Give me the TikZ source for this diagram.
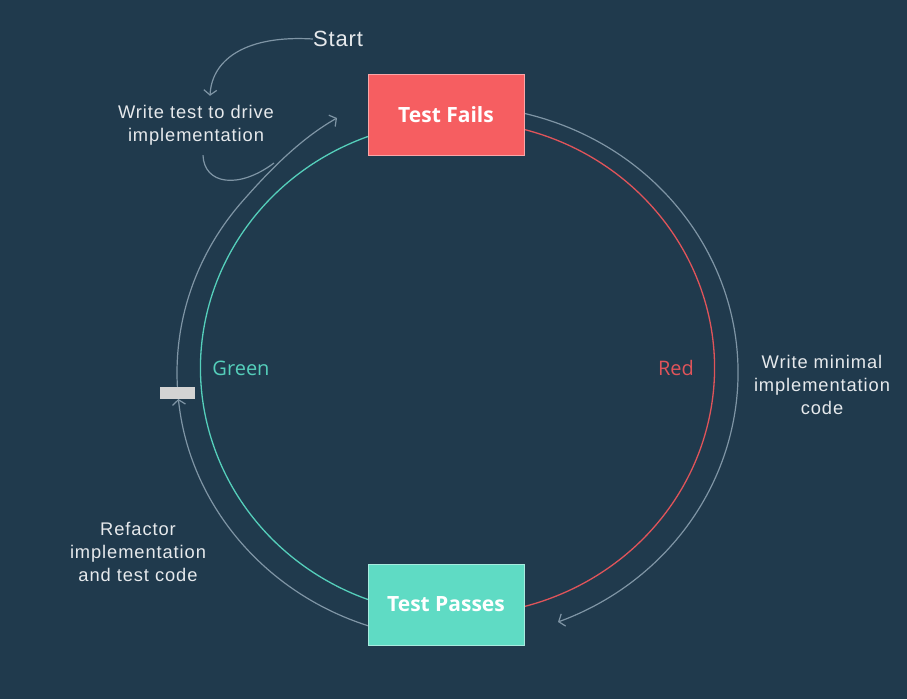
\documentclass[tikz,border=0pt]{standalone}
\usepackage{fontspec}
\setmainfont{Liberation Sans}
\newfontfamily\boxfont{Open Sans}
\usetikzlibrary{arrows.meta}

\definecolor{bgnavy}{HTML}{203A4D}
\definecolor{failred}{HTML}{F65E61}
\definecolor{passteal}{HTML}{5FDBC4}
\definecolor{redline}{HTML}{E0545A}
\definecolor{tealline}{HTML}{55CFBB}
\definecolor{flowgray}{HTML}{7F95A5}
\definecolor{notewhite}{HTML}{E6E9EC}
\definecolor{markgray}{HTML}{D3D3D3}

\tikzset{
  stepbox/.style={fill=#1, draw=#1!55!white, line width=0.8pt, minimum width=156pt,
    minimum height=81pt, inner sep=0pt, text=white,
    font=\boxfont\bfseries\fontsize{21}{25}\selectfont},
  note/.style={text=notewhite, align=center, inner sep=0pt,
    font=\fontsize{18.3}{23}\selectfont\addfontfeature{LetterSpace=5}},
  phase/.style={inner sep=0pt, font=\boxfont\fontsize{20}{24}\selectfont},
  flow/.style={draw=flowgray, line width=1.2pt},
  tip/.style={-{Straight Barb[length=5pt,width=13pt]}},
}

\begin{document}
\begin{tikzpicture}[x=1pt, y=-1pt]
    % Background
    \fill[bgnavy] (0,0) rectangle (907,699);
    \useasboundingbox (0,0) rectangle (907,699);

    % Centres of the two rings
    \coordinate (inner) at (457.5,368);
    \coordinate (outer) at (457.5,372.7);

    % Inner ring: green half and red half
    \draw[tealline, line width=1.3pt] ([shift={(110.4:257pt and 247pt)}]inner)
        arc[start angle=110.4, end angle=249.6, x radius=257pt, y radius=247pt];
    \draw[redline, line width=1.3pt] ([shift={(75:257pt and 247pt)}]inner)
        arc[start angle=75, end angle=-75, x radius=257pt, y radius=247pt];

    % Outer ring, right side
    \draw[flow, tip] ([shift={(76.3:280.5pt and 267pt)}]outer)
        arc[start angle=76.3, end angle=-69, x radius=280.5pt, y radius=267pt];

    % Outer ring, left side
    \coordinate (tipfails) at (337,118);
    \coordinate (merge) at (274,163);
    \draw[flow, tip] ([shift={(251.4:280.5pt and 267pt)}]outer)
        arc[start angle=251.4, end angle=185.65, x radius=280.5pt, y radius=267pt];
    \draw[flow, tip] ([shift={(185.65:280.5pt and 267pt)}]outer)
        arc[start angle=185.65, end angle=140, x radius=280.5pt, y radius=267pt]
        .. controls (269,171) and (300,139) .. (tipfails);

    % Boxes
    \node[stepbox=failred] (fails) at (446,115) {Test Fails};
    \node[stepbox=passteal] (passes) at (446,604.5) {Test Passes};

    % Marker on the left ring
    \node[fill=markgray, minimum width=35pt, minimum height=12pt, inner sep=0pt] (gap) at (177.5,393) {};

    % Labels
    \node[note, font=\fontsize{22}{26}\selectfont\addfontfeature{LetterSpace=4}] (start) at (338,39) {Start};
    \node[note] (writetest) at (196,125) {Write test to drive\\implementation};
    \node[note] (writemin) at (822,385) {Write minimal\\implementation\\code};
    \node[note] (refactor) at (138,552) {Refactor\\implementation\\and test code};
    \node[phase, text=tealline] (lblgreen) at (241,368) {Green};
    \node[phase, text=redline] (lblred) at (676,368) {Red};

    % Start arrow and swoosh
    \draw[flow, tip] (start.west) .. controls (248,35) and (212,58) .. ([shift={(14,-9)}]writetest.north);
    \draw[flow] ([shift={(7,10)}]writetest.south) .. controls (204,184) and (238,190) .. (merge);
\end{tikzpicture}
\end{document}
